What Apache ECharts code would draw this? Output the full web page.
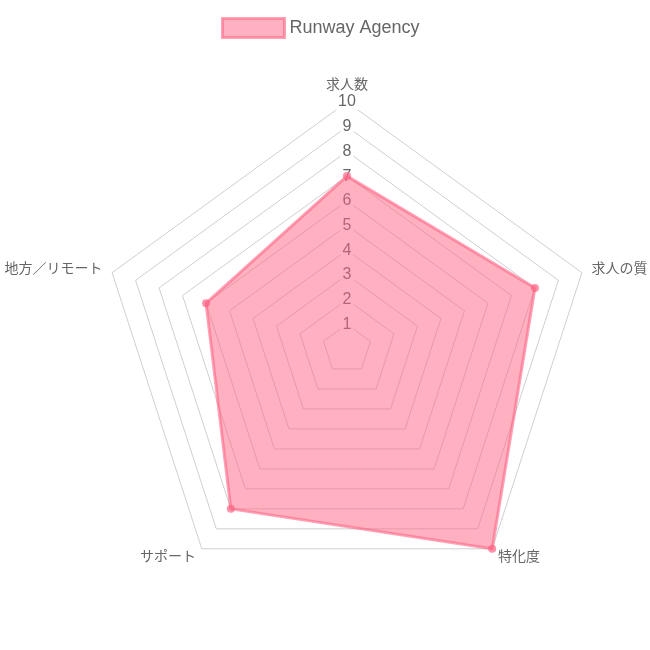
<!DOCTYPE html>
<html>
<head>
<meta charset="utf-8">
<script src="https://cdn.jsdelivr.net/npm/echarts@6/dist/echarts.min.js"></script>
<style>
  html, body { margin: 0; padding: 0; background: #fff; }
  #chart { width: 650px; height: 650px; }
</style>
</head>
<body>
<div id="chart"></div>
<script>
// 時計回り（上から）の順
var indicators = ['求人数', '求人の質', '特化度', 'サポート', '地方／リモート'];
var scores = [7, 8, 10, 8, 6];
var maxScore = 10;
var seriesName = 'Runway Agency';

window.addEventListener('load', function () {
    var myChart = echarts.init(document.getElementById('chart'));
    var font = '"Liberation Sans", "Noto Sans CJK JP", sans-serif';

    // ECharts のレーダーは反時計回りなので、先頭以外を逆順にする
    var order = [0].concat(indicators.map(function (_, i) { return i; }).slice(1).reverse());
    var names = order.map(function (i) { return indicators[i]; });
    var values = order.map(function (i) { return scores[i]; });

    var option = {
        animation: false,
        textStyle: { fontFamily: font },
        legend: {
            top: 12,
            left: 216,
            itemWidth: 62,
            itemHeight: 19,
            itemGap: 8,
            icon: 'rect',
            textStyle: { fontSize: 18, color: '#666', fontFamily: font },
            data: [{
                name: seriesName,
                itemStyle: {
                    color: 'rgba(255, 99, 132, 0.5)',
                    borderColor: 'rgba(255, 99, 132, 0.6)',
                    borderWidth: 3
                }
            }]
        },
        radar: {
            center: [347, 349],
            radius: 247,
            startAngle: 90,
            shape: 'polygon',
            splitNumber: 10,
            nameGap: 10,
            axisName: { color: '#666', fontSize: 14, fontFamily: font },
            axisLine: { show: false },
            axisTick: { show: false },
            splitArea: { show: false },
            splitLine: { lineStyle: { color: '#cfcfcf', width: 1 } },
            axisLabel: { show: false },
            indicator: names.map(function (name, i) {
                var ind = { name: name, min: 0, max: maxScore };
                if (i === 0) {
                    // 目盛りラベルは上の軸だけ
                    ind.axisLabel = {
                        show: true,
                        showMinLabel: false,
                        margin: 0,
                        align: 'center',
                        verticalAlign: 'middle',
                        fontSize: 16,
                        color: '#666',
                        fontFamily: font,
                        backgroundColor: '#fff',
                        padding: [0, 2]
                    };
                }
                return ind;
            })
        },
        series: [{
            name: seriesName,
            type: 'radar',
            symbol: 'circle',
            symbolSize: 8,
            lineStyle: { color: 'rgba(255, 99, 132, 0.6)', width: 3 },
            itemStyle: { color: 'rgba(255, 99, 132, 0.7)' },
            areaStyle: { color: 'rgba(255, 99, 132, 0.5)', opacity: 1 },
            data: [{ value: values, name: seriesName }]
        }]
    };

    myChart.setOption(option);
});
</script>
</body>
</html>
